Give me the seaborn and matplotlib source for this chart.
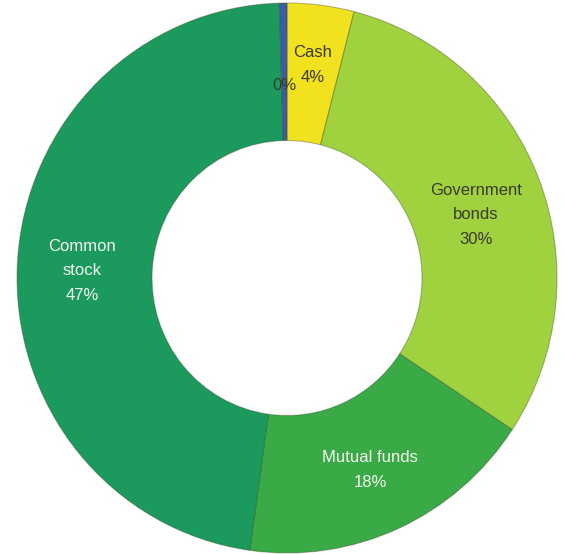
import numpy as np
import matplotlib
matplotlib.use("Agg")
import matplotlib.pyplot as plt
import seaborn as sns

# Portfolio allocation, clockwise from 12 o'clock
categories = ["Cash", "Government\nbonds", "Mutual funds", "Common\nstock", "Other"]
shares = [4.0, 30.3, 17.9, 47.35, 0.45]
show_name = [True, True, True, True, False]

colors = ["#f2e11e", "#a0d13e", "#3aaa47", "#1c9a5e", "#3a5caa"]
text_colors = ["#3a3a2a", "#3a3a2a", "#f4f7ee", "#f4f7ee", "#3a3a2a"]
# small label nudges (points) so labels sit clear of the slice edges
label_nudge = [(0, 6), (0, -8), (0, -3), (-2, -3), (0, -10)]

sns.set_style("white")
plt.rcParams["font.family"] = ["Liberation Sans", "DejaVu Sans"]

W, H = 564, 554
fig = plt.figure(figsize=(W / 100, H / 100), dpi=100)
ax = fig.add_axes([0, 0, 1, 1])

wedges, _ = ax.pie(
    shares,
    colors=sns.color_palette(colors),
    startangle=90,
    counterclock=False,
    radius=1.0,
    center=(0, 0),
    frame=True,
    wedgeprops=dict(width=0.5, edgecolor=(0.2, 0.25, 0.1, 0.35), linewidth=0.8),
)

# ring centre and radii in pixels (slightly wider vertically)
cx, cy, Rx, Ry = 287, 278, 270, 275
ax.set_xlim(-cx / Rx, (W - cx) / Rx)
ax.set_ylim(-(H - cy) / Ry, cy / Ry)
ax.set_aspect("auto")
ax.axis("off")

total = sum(shares)
cum = 0.0
for name, v, show, tc, nudge in zip(categories, shares, show_name, text_colors, label_nudge):
    mid = (cum + v / 2) / total * 360.0
    cum += v
    theta = np.deg2rad(90 - mid)
    r = 0.75
    label = f"{name}\n{v:.0f}%" if show else f"{v:.0f}%"
    ax.annotate(label, xy=(r * np.cos(theta), r * np.sin(theta)),
                xytext=nudge, textcoords="offset points",
                ha="center", va="center", fontsize=12, color=tc,
                linespacing=1.8)

fig.savefig("out.png", dpi=100)
